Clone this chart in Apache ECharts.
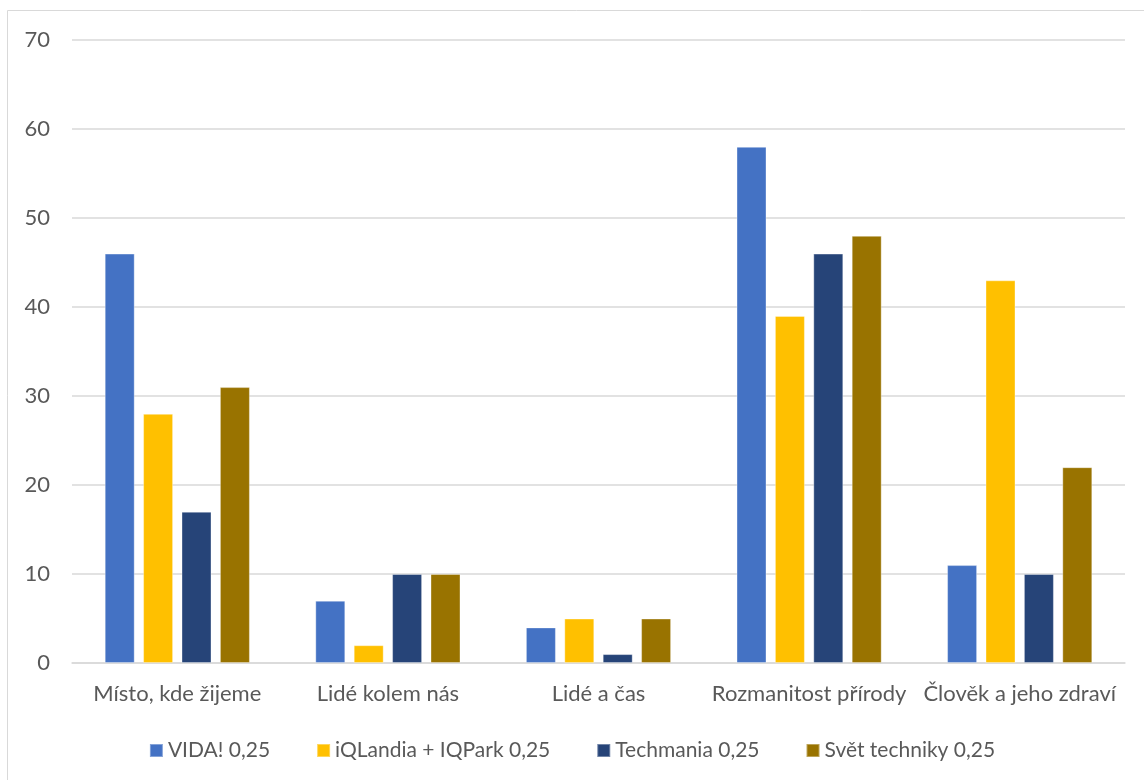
<!DOCTYPE html>
<html>
<head>
<meta charset="utf-8">
<script src="https://cdn.jsdelivr.net/npm/echarts@6/dist/echarts.min.js"></script>
<style>
  html, body { margin: 0; padding: 0; background: #fff; }
  #chart { width: 1144px; height: 780px; }
</style>
</head>
<body>
<div id="chart"></div>
<script>
const categories = ['Místo, kde žijeme', 'Lidé kolem nás', 'Lidé a čas', 'Rozmanitost přírody', 'Člověk a jeho zdraví'];
const seriesNames = ['VIDA! 0,25', 'iQLandia + IQPark 0,25', 'Techmania 0,25', 'Svět techniky 0,25'];
const vida = [46, 7, 4, 58, 11];
const iqlandia = [28, 2, 5, 39, 43];
const techmania = [17, 10, 1, 46, 10];
const svetTechniky = [31, 10, 5, 48, 22];
const colors = ['#4472C4', '#FFC000', '#264478', '#997300'];

const font = 'Lato, "Open Sans", sans-serif';
const chart = echarts.init(document.getElementById('chart'), null, { renderer: 'canvas' });

const values = [vida, iqlandia, techmania, svetTechniky];

chart.setOption({
  animation: false,
  color: colors,
  graphic: [{
    type: 'rect',
    shape: { x: 7.5, y: 10.5, width: 1160, height: 800 },
    style: { fill: 'none', stroke: '#d9d9d9', lineWidth: 1 },
    silent: true
  }],
  grid: { left: 72, right: 19, top: 40, bottom: 117, containLabel: false },
  legend: {
    top: 735,
    left: 'center',
    itemWidth: 13,
    itemHeight: 13,
    itemGap: 46,
    icon: 'rect',
    textStyle: { color: '#595959', fontSize: 21, fontFamily: font },
    data: seriesNames
  },
  xAxis: {
    type: 'category',
    data: categories,
    axisLine: { lineStyle: { color: '#d9d9d9', width: 1.5 } },
    axisTick: { show: false },
    axisLabel: { color: '#595959', fontSize: 22, fontFamily: font, margin: 20, interval: 0 }
  },
  yAxis: {
    type: 'value',
    min: 0,
    max: 70,
    interval: 10,
    axisLine: { show: false },
    axisTick: { show: false },
    splitLine: { lineStyle: { color: '#d9d9d9', width: 1.5 } },
    axisLabel: { color: '#595959', fontSize: 22, fontFamily: font, margin: 22 }
  },
  series: seriesNames.map((name, i) => ({
    name: name,
    type: 'bar',
    data: values[i],
    barWidth: 30,
    barGap: '28%',
    itemStyle: { color: colors[i], borderColor: 'rgba(255,255,255,0.35)', borderWidth: 1 }
  }))
});
</script>
</body>
</html>
